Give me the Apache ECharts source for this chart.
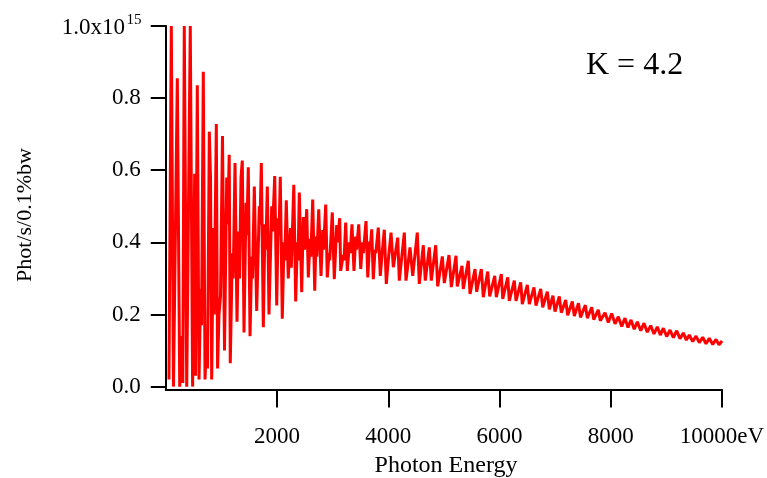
<!DOCTYPE html>
<html><head><meta charset="utf-8">
<script src="https://cdn.jsdelivr.net/npm/echarts@6/dist/echarts.min.js"></script>
<style>html,body{margin:0;padding:0;background:#fff}#c{width:767px;height:478px}</style>
</head><body><div id="c"></div>
<script>
// Photon energy (eV)
const energy = [
58,100,139,208,251,289,307,333,377,441,483,520,535,567,598,628,643,675,706,736,751,783,805,826,855,871,909,932,957,984,1020,1056,1096,1112,1141,
1160,1196,1213,1245,1281,1308,1326,1353,1376,1407,1443,1457,1484,1515,1545,1560,1592,1635,1682,1694,1718,1754,1784,1799,1826,1856,1905,1919,1959,1995,
2023,2036,2059,2095,2126,2140,2167,2203,2243,2257,2302,2336,2365,2378,2401,2444,2473,2494,2534,2563,2593,2608,2642,2678,2701,2716,2750,2791,2822,2836,
2876,2904,2935,2948,2994,3030,3073,3088,3127,3145,3192,3205,3235,3264,3303,3316,3348,3384,3415,3429,3469,3505,3537,3552,3600,3632,3667,3679,3703,3731,
3762,3776,3821,3857,3893,3906,3929,3965,4001,4014,4050,4091,4170,4199,4289,4319,4391,4440,4522,4558,4630,4666,4738,4774,4853,4889,4972,5008,5092,5134,
5218,5241,5326,5349,5439,5470,5560,5590,5673,5709,5788,5824,5914,5943,6033,6058,6148,6176,6266,6297,6381,6410,6500,6536,6620,6656,6741,6777,6860,6896,
6960,6998,7075,7111,7190,7226,7309,7345,7420,7456,7543,7579,7658,7694,7776,7812,7897,7956,8017,8077,8136,8197,8256,8310,8364,8422,8478,8539,8598,8657,
8718,8778,8837,8891,8945,9006,9066,9125,9186,9245,9305,9359,9412,9473,9533,9592,9653,9713,9772,9833,9893,9946,10000
];
// Flux (units of 1e15 phot/s/0.1%bw)
const flux = [
0.02,1.0,0.0,0.855,0.0,0.14,0.01,1.0,0.0,1.0,0.0,0.59,0.03,0.836,0.02,0.27,0.17,0.873,0.02,0.15,0.05,0.707,0.58,0.02,0.44,0.2,0.728,0.05,0.2,0.25,0.695,0.10,0.58,0.45,0.643,
0.065,0.37,0.30,0.62,0.18,0.43,0.30,0.58,0.627,0.15,0.51,0.42,0.608,0.14,0.36,0.30,0.555,0.21,0.50,0.45,0.62,0.165,0.45,0.38,0.555,0.2,0.5,0.43,0.584,0.225,
0.467,0.42,0.582,0.188,0.40,0.35,0.517,0.30,0.44,0.33,0.56,0.236,0.40,0.35,0.538,0.262,0.47,0.38,0.492,0.303,0.41,0.36,0.519,0.266,0.416,0.36,0.492,0.307,0.434,0.38,
0.505,0.303,0.37,0.35,0.483,0.298,0.448,0.40,0.467,0.321,0.365,0.35,0.455,0.321,0.40,0.37,0.45,0.321,0.416,0.38,0.45,0.326,0.40,0.37,0.459,0.303,0.402,0.39,0.436,0.298,
0.379,0.37,0.441,0.307,0.374,0.37,0.435,0.285,0.351,0.35,0.427,0.331,0.413,0.294,0.427,0.294,0.386,0.307,0.427,0.285,0.392,0.294,0.386,0.294,0.392,0.278,0.361,0.287,0.365,0.276,
0.363,0.278,0.335,0.271,0.349,0.257,0.326,0.263,0.326,0.248,0.319,0.25,0.307,0.248,0.312,0.243,0.303,0.238,0.294,0.238,0.289,0.229,0.282,0.229,0.275,0.225,0.271,0.22,0.263,0.214,
0.252,0.208,0.25,0.205,0.24,0.198,0.236,0.196,0.231,0.192,0.226,0.19,0.22,0.186,0.213,0.183,0.205,0.178,0.203,0.174,0.194,0.167,0.19,0.164,0.185,0.159,0.18,0.155,0.176,0.151,
0.169,0.146,0.166,0.143,0.162,0.139,0.157,0.136,0.155,0.133,0.149,0.129,0.143,0.125,0.14,0.122,0.137,0.119,0.134,0.117,0.131,0.116,0.127
];
const yTicks = [0, 0.2, 0.4, 0.6, 0.8, 1.0];
const yLabelTicks = [0, 0.2, 0.4, 0.6, 0.8];
const xTicks = [2000, 4000, 6000, 8000, 10000];

const FONT = 'Liberation Serif';
const chart = echarts.init(document.getElementById('c'), null, {renderer: 'canvas'});
chart.setOption({
  animation: false,
  backgroundColor: '#fff',
  grid: {left: 165.75, right: 45, top: 26, bottom: 88.5, containLabel: false, outerBoundsMode: 'none'},
  xAxis: {
    type: 'value', min: 0, max: 10000,
    axisLine: {show: true, onZero: false, lineStyle: {color: '#000', width: 2}},
    axisTick: {show: true, length: 18, customValues: xTicks, lineStyle: {color: '#000', width: 2}},
    axisLabel: {customValues: xTicks, margin: 36, color: '#000', fontFamily: FONT, fontSize: 23,
      formatter: v => v === 10000 ? '10000eV' : String(v)},
    splitLine: {show: false}
  },
  yAxis: {
    type: 'value', min: -0.008, max: 1.0,
    axisLine: {show: true, lineStyle: {color: '#000', width: 2}},
    axisTick: {show: true, length: 15, customValues: yTicks, lineStyle: {color: '#000', width: 2}},
    axisLabel: {customValues: yLabelTicks, margin: 25, color: '#000', fontFamily: FONT, fontSize: 23,
      formatter: v => v.toFixed(1)},
    splitLine: {show: false}
  },
  graphic: [{
    type: 'text', left: 586, top: 50,
    style: {text: 'K = 4.2', fill: '#000', font: '32px "Liberation Serif"'}
  }, {
    type: 'text', x: 125, y: 28,
    style: {text: '1.0x10', fill: '#000', font: '23px "Liberation Serif"', align: 'right', verticalAlign: 'middle'}
  }, {
    type: 'text', x: 126.5, y: 20,
    style: {text: '15', fill: '#000', font: '15px "Liberation Serif"', align: 'left', verticalAlign: 'middle'}
  }, {
    type: 'text', x: 25, y: 215, rotation: Math.PI / 2,
    style: {text: 'Phot/s/0.1%bw', fill: '#000', font: '22px "Liberation Serif"', align: 'center', verticalAlign: 'middle'}
  }, {
    type: 'text', x: 446, y: 466,
    style: {text: 'Photon Energy', fill: '#000', font: '24px "Liberation Serif"', align: 'center', verticalAlign: 'middle'}
  }],
  series: [{
    type: 'line', data: energy.map((e, i) => [e, flux[i]]),
    showSymbol: false, clip: true,
    lineStyle: {color: '#ff0000', width: 3}
  }]
});
</script></body></html>
